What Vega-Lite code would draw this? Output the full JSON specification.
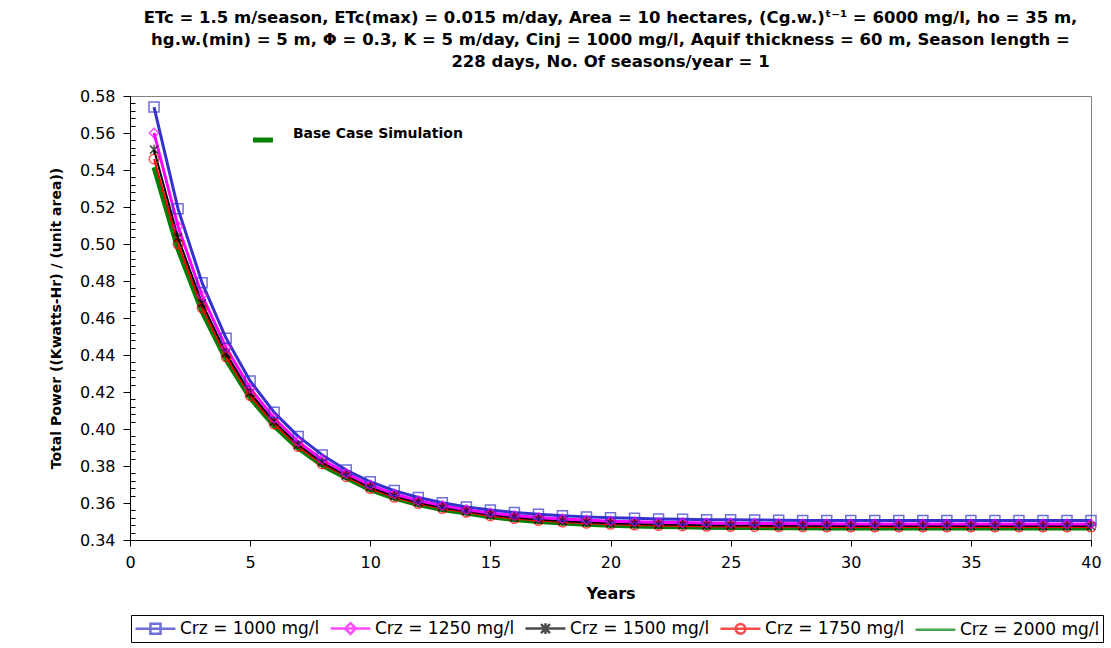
{
  "$schema": "https://vega.github.io/schema/vega-lite/v6.json",
  "width": 961,
  "height": 444,
  "autosize": "none",
  "padding": {"left": 130, "top": 96, "right": 20, "bottom": 108},
  "background": "white",
  "config": {
    "view": {"stroke": "#808080", "strokeWidth": 1},
    "font": "DejaVu Sans",
    "legend": {
      "orient": "none",
      "legendX": 1,
      "legendY": 519,
      "direction": "horizontal",
      "labelFont": "DejaVu Sans",
      "labelFontSize": 17,
      "labelColor": "black",
      "symbolSize": 324,
      "symbolStrokeWidth": 2.5,
      "strokeColor": "black",
      "padding": 3,
      "columnPadding": 5,
      "labelOffset": 25,
      "columns": 5
    }
  },
  "title": {
    "text": [
      "ETc = 1.5 m/season, ETc(max) = 0.015 m/day, Area = 10 hectares, (Cg.w.)ᵗ⁻¹ = 6000 mg/l, ho = 35 m,",
      "hg.w.(min) = 5 m, Φ = 0.3, K = 5 m/day, Cinj = 1000 mg/l, Aquif thickness = 60 m, Season length =",
      "228 days, No. Of seasons/year = 1"
    ],
    "anchor": "middle",
    "frame": "group",
    "font": "DejaVu Sans",
    "fontSize": 16.5,
    "fontWeight": "bold",
    "lineHeight": 22,
    "offset": 18,
    "color": "black"
  },
  "datasets": {
    "power": [
      {"year": 1, "c1000": 0.574, "c1250": 0.560, "c1500": 0.551, "c1750": 0.546, "c2000": 0.5415},
      {"year": 2, "c1000": 0.519, "c1250": 0.5095, "c1500": 0.5035, "c1750": 0.500, "c2000": 0.4972},
      {"year": 3, "c1000": 0.479, "c1250": 0.4722, "c1500": 0.468, "c1750": 0.4655, "c2000": 0.4635},
      {"year": 4, "c1000": 0.449, "c1250": 0.444, "c1500": 0.441, "c1750": 0.439, "c2000": 0.4375},
      {"year": 5, "c1000": 0.426, "c1250": 0.422, "c1500": 0.4195, "c1750": 0.418, "c2000": 0.4168},
      {"year": 6, "c1000": 0.409, "c1250": 0.4058, "c1500": 0.404, "c1750": 0.4027, "c2000": 0.4017},
      {"year": 7, "c1000": 0.396, "c1250": 0.3932, "c1500": 0.3915, "c1750": 0.3905, "c2000": 0.3897},
      {"year": 8, "c1000": 0.386, "c1250": 0.3835, "c1500": 0.382, "c1750": 0.3811, "c2000": 0.3804},
      {"year": 9, "c1000": 0.3778, "c1250": 0.376, "c1500": 0.3749, "c1750": 0.3742, "c2000": 0.3737},
      {"year": 10, "c1000": 0.3715, "c1250": 0.3697, "c1500": 0.3685, "c1750": 0.3678, "c2000": 0.3672},
      {"year": 11, "c1000": 0.3667, "c1250": 0.3649, "c1500": 0.3638, "c1750": 0.3631, "c2000": 0.3626},
      {"year": 12, "c1000": 0.3630, "c1250": 0.3613, "c1500": 0.3603, "c1750": 0.3597, "c2000": 0.3592},
      {"year": 13, "c1000": 0.3601, "c1250": 0.3586, "c1500": 0.3576, "c1750": 0.3570, "c2000": 0.3565},
      {"year": 14, "c1000": 0.3579, "c1250": 0.3564, "c1500": 0.3555, "c1750": 0.3550, "c2000": 0.3546},
      {"year": 15, "c1000": 0.3562, "c1250": 0.3546, "c1500": 0.3536, "c1750": 0.3530, "c2000": 0.3525},
      {"year": 16, "c1000": 0.3549, "c1250": 0.3532, "c1500": 0.3522, "c1750": 0.3516, "c2000": 0.3511},
      {"year": 17, "c1000": 0.3539, "c1250": 0.3522, "c1500": 0.3511, "c1750": 0.3505, "c2000": 0.3500},
      {"year": 18, "c1000": 0.3531, "c1250": 0.3514, "c1500": 0.3503, "c1750": 0.3497, "c2000": 0.3492},
      {"year": 19, "c1000": 0.3525, "c1250": 0.3508, "c1500": 0.3496, "c1750": 0.3490, "c2000": 0.3485},
      {"year": 20, "c1000": 0.3520, "c1250": 0.3502, "c1500": 0.3491, "c1750": 0.3485, "c2000": 0.3480},
      {"year": 21, "c1000": 0.3517, "c1250": 0.3499, "c1500": 0.3487, "c1750": 0.3481, "c2000": 0.3476},
      {"year": 22, "c1000": 0.3514, "c1250": 0.3496, "c1500": 0.3484, "c1750": 0.3478, "c2000": 0.3473},
      {"year": 23, "c1000": 0.3512, "c1250": 0.3494, "c1500": 0.3482, "c1750": 0.3476, "c2000": 0.3471},
      {"year": 24, "c1000": 0.3510, "c1250": 0.3492, "c1500": 0.3480, "c1750": 0.3474, "c2000": 0.3469},
      {"year": 25, "c1000": 0.3509, "c1250": 0.3491, "c1500": 0.3479, "c1750": 0.3473, "c2000": 0.3468},
      {"year": 26, "c1000": 0.3508, "c1250": 0.3490, "c1500": 0.3478, "c1750": 0.3472, "c2000": 0.3467},
      {"year": 27, "c1000": 0.3507, "c1250": 0.3489, "c1500": 0.3477, "c1750": 0.3471, "c2000": 0.3466},
      {"year": 28, "c1000": 0.3506, "c1250": 0.3488, "c1500": 0.3477, "c1750": 0.3471, "c2000": 0.3466},
      {"year": 29, "c1000": 0.3506, "c1250": 0.3488, "c1500": 0.3476, "c1750": 0.3470, "c2000": 0.3465},
      {"year": 30, "c1000": 0.3505, "c1250": 0.3487, "c1500": 0.3476, "c1750": 0.3470, "c2000": 0.3465},
      {"year": 31, "c1000": 0.3505, "c1250": 0.3487, "c1500": 0.3476, "c1750": 0.3470, "c2000": 0.3465},
      {"year": 32, "c1000": 0.3505, "c1250": 0.3487, "c1500": 0.3476, "c1750": 0.3470, "c2000": 0.3465},
      {"year": 33, "c1000": 0.3505, "c1250": 0.3487, "c1500": 0.3476, "c1750": 0.3470, "c2000": 0.3465},
      {"year": 34, "c1000": 0.3505, "c1250": 0.3487, "c1500": 0.3476, "c1750": 0.3470, "c2000": 0.3465},
      {"year": 35, "c1000": 0.3505, "c1250": 0.3487, "c1500": 0.3476, "c1750": 0.3470, "c2000": 0.3465},
      {"year": 36, "c1000": 0.3505, "c1250": 0.3487, "c1500": 0.3476, "c1750": 0.3470, "c2000": 0.3465},
      {"year": 37, "c1000": 0.3505, "c1250": 0.3487, "c1500": 0.3476, "c1750": 0.3470, "c2000": 0.3465},
      {"year": 38, "c1000": 0.3505, "c1250": 0.3487, "c1500": 0.3476, "c1750": 0.3470, "c2000": 0.3465},
      {"year": 39, "c1000": 0.3505, "c1250": 0.3487, "c1500": 0.3476, "c1750": 0.3470, "c2000": 0.3465},
      {"year": 40, "c1000": 0.3505, "c1250": 0.3487, "c1500": 0.3476, "c1750": 0.3470, "c2000": 0.3465}
    ],
    "legendSeries": [
      {"series": "Crz = 1000 mg/l"},
      {"series": "Crz = 1250 mg/l"},
      {"series": "Crz = 1500 mg/l"},
      {"series": "Crz = 1750 mg/l"},
      {"series": "Crz = 2000 mg/l"}
    ],
    "note": [
      {"year": 6.78, "value": 0.5595, "label": "Base Case Simulation"}
    ],
    "noteLine": [
      {"year": 5.12, "year2": 5.95, "value": 0.5562}
    ]
  },
  "data": {"name": "power"},
  "transform": [
    {"fold": ["c1000", "c1250", "c1500", "c1750", "c2000"], "as": ["series", "value"]}
  ],
  "encoding": {
    "x": {
      "field": "year",
      "type": "quantitative",
      "scale": {"domain": [0, 40], "nice": false, "zero": false},
      "title": "Years",
      "axis": {
        "values": [0, 5, 10, 15, 20, 25, 30, 35, 40],
        "format": "d",
        "grid": false,
        "tickSize": 6,
        "tickColor": "black",
        "domainColor": "black",
        "labelFont": "DejaVu Sans",
        "labelFontSize": 16,
        "labelColor": "black",
        "labelPadding": 8,
        "labelFlush": false,
        "titleFont": "DejaVu Sans",
        "titleFontSize": 16,
        "titleFontWeight": "bold",
        "titleColor": "black",
        "titlePadding": 15
      }
    },
    "y": {
      "field": "value",
      "type": "quantitative",
      "scale": {"domain": [0.34, 0.58], "nice": false, "zero": false},
      "title": "Total Power ((Kwatts-Hr) / (unit area))",
      "axis": {
        "values": [0.34,0.344,0.348,0.352,0.356,0.36,0.364,0.368,0.372,0.376,0.38,0.384,0.388,0.392,0.396,0.4,0.404,0.408,0.412,0.416,0.42,0.424,0.428,0.432,0.436,0.44,0.444,0.448,0.452,0.456,0.46,0.464,0.468,0.472,0.476,0.48,0.484,0.488,0.492,0.496,0.5,0.504,0.508,0.512,0.516,0.52,0.524,0.528,0.532,0.536,0.54,0.544,0.548,0.552,0.556,0.56,0.564,0.568,0.572,0.576,0.58],
        "labelExpr": "(round(datum.value*1000) % 20 == 0) ? format(datum.value, '.2f') : ''",
        "labelOverlap": false,
        "labelFlush": false,
        "grid": false,
        "tickSize": {"condition": {"test": "round(datum.value*1000) % 20 == 0", "value": 7}, "value": -5},
        "tickColor": "black",
        "domainColor": "black",
        "labelFont": "DejaVu Sans",
        "labelFontSize": 16,
        "labelColor": "black",
        "labelPadding": 8,
        "titleFont": "DejaVu Sans",
        "titleFontSize": 14,
        "titleFontWeight": "bold",
        "titleColor": "black",
        "titlePadding": 16
      }
    }
  },
  "layer": [
    {
      "transform": [{"filter": "datum.series == 'c2000'"}],
      "mark": {"type": "line", "color": "#008000", "strokeWidth": 5, "strokeJoin": "round"}
    },
    {
      "transform": [{"filter": "datum.series == 'c1750'"}],
      "mark": {"type": "line", "color": "#FF0000", "strokeWidth": 2, "strokeJoin": "round"}
    },
    {
      "transform": [{"filter": "datum.series == 'c1500'"}],
      "mark": {"type": "line", "color": "#000000", "strokeWidth": 2, "strokeJoin": "round"}
    },
    {
      "transform": [{"filter": "datum.series == 'c1250'"}],
      "mark": {"type": "line", "color": "#FF00FF", "strokeWidth": 3, "strokeJoin": "round"}
    },
    {
      "transform": [{"filter": "datum.series == 'c1000'"}],
      "mark": {"type": "line", "color": "#3333CC", "strokeWidth": 3, "strokeJoin": "round"}
    },
    {
      "transform": [{"filter": "datum.series == 'c1750'"}],
      "mark": {"type": "point", "shape": "circle", "filled": false, "color": "#FF0000", "size": 90, "strokeWidth": 1.5}
    },
    {
      "transform": [{"filter": "datum.series == 'c1500'"}],
      "mark": {"type": "point", "shape": "M-1,-1L1,1M-1,1L1,-1M0,-1.2L0,1.2", "filled": false, "color": "#000000", "size": 64, "strokeWidth": 1.5}
    },
    {
      "transform": [{"filter": "datum.series == 'c1250'"}],
      "mark": {"type": "point", "shape": "diamond", "filled": false, "color": "#FF00FF", "size": 90, "strokeWidth": 1.5}
    },
    {
      "transform": [{"filter": "datum.series == 'c1000'"}],
      "mark": {"type": "point", "shape": "square", "filled": false, "color": "#3333CC", "size": 100, "strokeWidth": 1.5}
    },
    {
      "data": {"name": "noteLine"},
      "mark": {"type": "rule", "color": "#008000", "strokeWidth": 5},
      "encoding": {"x2": {"field": "year2"}}
    },
    {
      "data": {"name": "note"},
      "mark": {"type": "text", "align": "left", "baseline": "middle", "font": "DejaVu Sans", "fontSize": 14, "fontWeight": "bold", "color": "black"},
      "encoding": {"text": {"field": "label"}}
    },
    {
      "data": {"name": "legendSeries"},
      "transform": [{"filter": "datum.series == 'none'"}],
      "mark": {"type": "point", "filled": false},
      "encoding": {
        "color": {
          "field": "series",
          "type": "nominal",
          "scale": {
            "domain": ["Crz = 1000 mg/l", "Crz = 1250 mg/l", "Crz = 1500 mg/l", "Crz = 1750 mg/l", "Crz = 2000 mg/l"],
            "range": ["#3333CC", "#FF00FF", "#000000", "#FF0000", "#008000"]
          },
          "legend": {"title": null}
        },
        "shape": {
          "field": "series",
          "type": "nominal",
          "scale": {
            "domain": ["Crz = 1000 mg/l", "Crz = 1250 mg/l", "Crz = 1500 mg/l", "Crz = 1750 mg/l", "Crz = 2000 mg/l"],
            "range": [
              "M-1,0L3.44,0M0.66,-0.56L1.78,-0.56L1.78,0.56L0.66,0.56Z",
              "M-1,0L3.44,0M1.22,-0.6L1.82,0L1.22,0.6L0.62,0Z",
              "M-1,0L3.44,0M0.72,-0.5L1.72,0.5M0.72,0.5L1.72,-0.5M1.22,-0.6L1.22,0.6",
              "M-1,0L3.44,0M0.68,0A0.54,0.54 0 1 0 1.76,0A0.54,0.54 0 1 0 0.68,0Z",
              "M-1,0L3.44,0"
            ]
          },
          "legend": {"title": null}
        }
      }
    }
  ]
}
